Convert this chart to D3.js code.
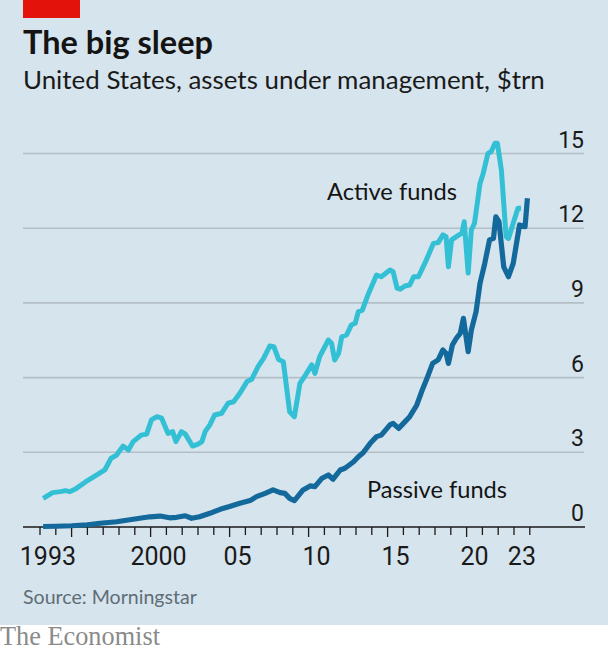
<!DOCTYPE html>
<html>
<head>
<meta charset="utf-8">
<script src="https://cdn.jsdelivr.net/npm/d3@7"></script>
<style>
  html, body { margin: 0; padding: 0; background: #ffffff; }
  svg { display: block; }
</style>
</head>
<body>
<svg id="chart" width="608" height="662"></svg>
<script>
// ---------- DATA ----------
const activeDates = [1993.2,1993.8,1994.3,1994.6,1994.9,1995.3,1995.9,1996.6,1997.1,1997.5,1997.85,1998.25,1998.6,1998.9,1999.4,1999.75,2000.05,2000.4,2000.7,2001.1,2001.4,2001.6,2001.95,2002.2,2002.65,2003.0,2003.25,2003.45,2003.75,2004.05,2004.5,2004.9,2005.25,2005.65,2006.1,2006.4,2006.8,2007.15,2007.55,2007.8,2008.1,2008.4,2008.8,2009.1,2009.45,2009.8,2010.2,2010.4,2010.7,2011.25,2011.45,2011.65,2011.9,2012.1,2012.4,2012.7,2012.95,2013.15,2013.4,2013.8,2014.3,2014.6,2015.15,2015.35,2015.6,2015.8,2016.1,2016.4,2016.65,2016.95,2017.45,2017.9,2018.2,2018.5,2018.7,2018.85,2019.05,2019.35,2019.7,2019.85,2020.1,2020.3,2020.5,2020.85,2021.05,2021.35,2021.55,2021.8,2021.95,2022.2,2022.5,2022.65,2022.95,2023.25,2023.45];
const activeValues = [1.15,1.38,1.42,1.46,1.42,1.55,1.82,2.09,2.29,2.76,2.89,3.25,3.09,3.43,3.69,3.73,4.30,4.43,4.37,3.76,3.83,3.43,3.83,3.73,3.25,3.33,3.43,3.83,4.10,4.50,4.57,4.97,5.03,5.37,5.84,5.93,6.44,6.77,7.27,7.24,6.73,6.64,4.63,4.43,5.77,6.10,6.51,6.17,6.84,7.51,7.38,6.71,6.98,7.64,7.71,8.11,8.18,8.65,8.71,9.39,10.12,10.05,10.32,10.25,9.59,9.55,9.68,9.72,10.05,10.05,10.72,11.39,11.42,11.73,11.66,10.45,11.53,11.66,11.80,12.26,10.20,11.93,12.20,13.80,14.20,15.00,15.07,15.41,15.41,14.34,11.66,11.59,12.20,12.80,12.80];

const passiveDates = [1993.2,1994.0,1995.0,1996.0,1996.8,1997.85,1998.9,1999.95,2000.6,2001.2,2001.65,2002.2,2002.6,2003.1,2003.75,2004.4,2005.0,2005.65,2006.3,2006.7,2007.25,2007.75,2008.2,2008.5,2008.8,2009.1,2009.65,2010.1,2010.4,2010.85,2011.25,2011.55,2012.0,2012.3,2012.85,2013.15,2013.45,2013.9,2014.3,2014.6,2015.15,2015.35,2015.7,2016.0,2016.4,2016.85,2017.15,2017.45,2017.85,2018.2,2018.5,2018.7,2018.85,2019.1,2019.35,2019.6,2019.8,2020.1,2020.3,2020.6,2020.85,2021.15,2021.45,2021.7,2021.85,2022.05,2022.35,2022.65,2022.95,2023.35,2023.7,2023.85];
const passiveValues = [0.02,0.03,0.05,0.09,0.15,0.21,0.31,0.41,0.44,0.37,0.39,0.45,0.35,0.41,0.55,0.71,0.82,0.95,1.06,1.22,1.35,1.49,1.38,1.35,1.15,1.06,1.49,1.65,1.62,1.96,2.09,1.92,2.29,2.36,2.62,2.82,2.98,3.36,3.63,3.69,4.10,4.16,3.96,4.16,4.43,4.90,5.43,5.90,6.57,6.71,7.11,6.98,6.57,7.31,7.58,7.78,8.38,7.04,7.91,8.65,9.79,10.59,11.53,11.59,12.46,12.26,10.45,10.05,10.59,12.13,12.06,13.20];

const yTicks = [0, 3, 6, 9, 12, 15];
const xTickYears = d3.range(1993, 2025);
const xLabelYears = [1993, 2000, 2005, 2010, 2015, 2020, 2023];
const xLabelTexts = ["1993", "2000", "05", "10", "15", "20", "23"];

const title = "The big sleep";
const subtitle = "United States, assets under management, $trn";
const source = "Source: Morningstar";
const seriesNames = ["Active funds", "Passive funds"];

// ---------- LAYOUT ----------
const W = 608, H = 662;
const svg = d3.select("#chart");
const bg = "#d6e4ed";
const activeColor = "#33c0d5";
const passiveColor = "#13699b";
const sansFont = "Lato, 'Open Sans', sans-serif";
const numFont = "'Liberation Sans Narrow', 'Roboto', sans-serif";

svg.append("rect").attr("x", 0).attr("y", 0).attr("width", W).attr("height", 625).attr("fill", bg);
svg.append("rect").attr("x", 23).attr("y", 0).attr("width", 57).attr("height", 18).attr("fill", "#e3120b");

function fit(sel, target) {
  const len = sel.node().getComputedTextLength();
  const fs = parseFloat(sel.attr("font-size"));
  if (len > 0) sel.attr("font-size", (fs * target / len).toFixed(2));
  return sel;
}

fit(svg.append("text").attr("x", 23).attr("y", 54).attr("font-family", sansFont)
  .attr("font-weight", 700).attr("font-size", 28).attr("fill", "#141414").text(title), 190);
fit(svg.append("text").attr("x", 23).attr("y", 89).attr("font-family", sansFont)
  .attr("font-weight", 400).attr("font-size", 22).attr("fill", "#1a1a1a").text(subtitle), 522);

const x = d3.scaleLinear().domain([1993, 2024]).range([40, 529.8]);
const y = d3.scaleLinear().domain([0, 15]).range([527, 153.5]);

// gridlines
svg.append("g").selectAll("line").data(yTicks.filter(d => d > 0)).join("line")
  .attr("x1", 23).attr("x2", 584).attr("y1", d => y(d)).attr("y2", d => y(d))
  .attr("stroke", "#b3bec6").attr("stroke-width", 1.6);

// y labels
svg.append("g").selectAll("text").data(yTicks).join("text")
  .attr("x", 584).attr("y", d => y(d) - 6).attr("text-anchor", "end")
  .attr("font-family", numFont).attr("font-size", 23).attr("fill", "#1a1a1a")
  .text(d => d);

// x axis ticks
svg.append("g").selectAll("line").data(xTickYears).join("line")
  .attr("x1", d => x(d)).attr("x2", d => x(d))
  .attr("y1", y(0)).attr("y2", d => y(0) + (d % 5 === 0 ? 10 : 8))
  .attr("stroke", "#1a1a1a").attr("stroke-width", 1.3);

svg.append("g").selectAll("text").data(xLabelYears).join("text")
  .attr("x", d => x(d + 0.5)).attr("y", 565).attr("text-anchor", "middle")
  .attr("font-family", numFont).attr("font-size", 25).attr("fill", "#1a1a1a")
  .text((d, i) => xLabelTexts[i]);

// baseline
svg.append("line").attr("x1", 23).attr("x2", 585).attr("y1", y(0)).attr("y2", y(0))
  .attr("stroke", "#1a1a1a").attr("stroke-width", 1.6);

// lines
const line = d3.line().x(d => x(d[0])).y(d => y(d[1]));
const activeData = activeDates.map((d, i) => [d, activeValues[i]]);
const passiveData = passiveDates.map((d, i) => [d, passiveValues[i]]);

svg.append("path").datum(activeData).attr("d", line).attr("fill", "none")
  .attr("stroke", activeColor).attr("stroke-width", 5).attr("stroke-linejoin", "round");
svg.append("path").datum(passiveData).attr("d", line).attr("fill", "none")
  .attr("stroke", passiveColor).attr("stroke-width", 5.2).attr("stroke-linejoin", "round");

// series labels
fit(svg.append("text").attr("x", 327).attr("y", 200).attr("font-family", sansFont)
  .attr("font-size", 23).attr("fill", "#141414").text(seriesNames[0]), 130);
fit(svg.append("text").attr("x", 367).attr("y", 498).attr("font-family", sansFont)
  .attr("font-size", 23).attr("fill", "#141414").text(seriesNames[1]), 140);

// source
fit(svg.append("text").attr("x", 23).attr("y", 604).attr("font-family", sansFont)
  .attr("font-size", 20).attr("fill", "#5f6d76").text(source), 174);

// brand
fit(svg.append("text").attr("x", 0).attr("y", 645).attr("font-family", "'Liberation Serif', 'DejaVu Serif', serif")
  .attr("font-size", 22).attr("fill", "#8a8a8a").text("The Economist"), 160);
</script>
</body>
</html>
